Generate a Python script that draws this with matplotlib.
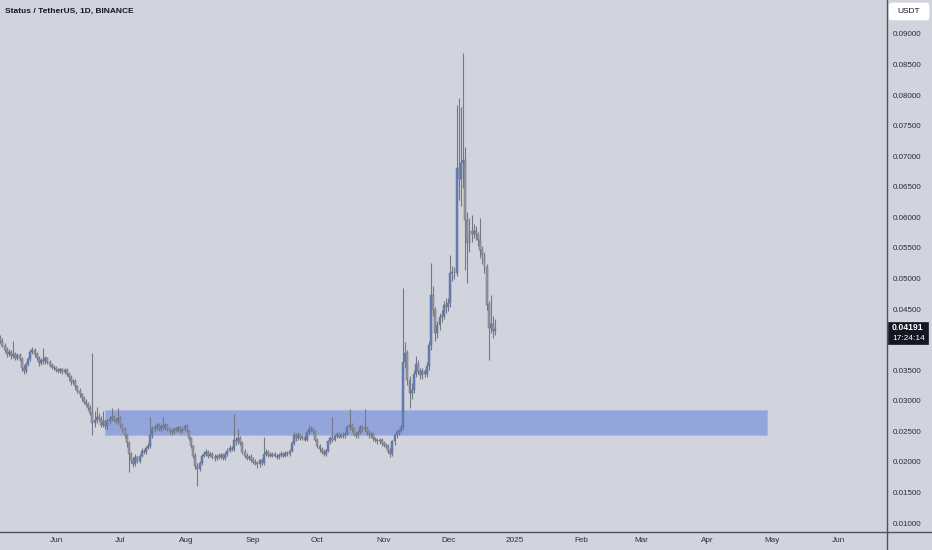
import matplotlib
matplotlib.use("Agg")
import matplotlib.pyplot as plt
import matplotlib.dates as mdates
from matplotlib.patches import Rectangle, FancyBboxPatch
import pandas as pd
import numpy as np

# ---------------- data ----------------
start_date = "2024-05-06"
first_open = 0.0405
closes = [
    0.0400, 0.0392, 0.0385, 0.0378, 0.0382, 0.0375, 0.0378, 0.0372, 0.0377, 0.0370,
    0.0355, 0.0350, 0.0362, 0.0370, 0.0382, 0.0385, 0.0378, 0.0372, 0.0363, 0.0368,
    0.0366, 0.0372, 0.0365, 0.0360, 0.0357, 0.0355, 0.0352, 0.0350, 0.0353, 0.0349,
    0.0352, 0.0345, 0.0340, 0.0332, 0.0334, 0.0325, 0.0318, 0.0312, 0.0306, 0.0300,
    0.0296, 0.0290, 0.0282, 0.0265, 0.0270, 0.0275, 0.0272, 0.0262, 0.0268, 0.0260,
    0.0268, 0.0272, 0.0275, 0.0270, 0.0268, 0.0273, 0.0262, 0.0255, 0.0245, 0.0232,
    0.0215, 0.0205, 0.0198, 0.0210, 0.0203, 0.0212, 0.0220, 0.0218, 0.0225, 0.0228,
    0.0245, 0.0255, 0.0258, 0.0262, 0.0255, 0.0260, 0.0257, 0.0262, 0.0255, 0.0252,
    0.0250, 0.0255, 0.0253, 0.0258, 0.0252, 0.0255, 0.0260, 0.0252, 0.0240, 0.0228,
    0.0212, 0.0195, 0.0190, 0.0200, 0.0212, 0.0215, 0.0218, 0.0212, 0.0215, 0.0210,
    0.0208, 0.0212, 0.0210, 0.0213, 0.0208, 0.0215, 0.0220, 0.0225, 0.0222, 0.0238,
    0.0235, 0.0240, 0.0232, 0.0218, 0.0212, 0.0208, 0.0210, 0.0205, 0.0202, 0.0200,
    0.0198, 0.0204, 0.0200, 0.0215, 0.0218, 0.0213, 0.0212, 0.0215, 0.0212, 0.0210,
    0.0213, 0.0215, 0.0212, 0.0216, 0.0214, 0.0220, 0.0232, 0.0245, 0.0240, 0.0245,
    0.0240, 0.0242, 0.0238, 0.0250, 0.0256, 0.0254, 0.0250, 0.0238, 0.0228, 0.0222,
    0.0218, 0.0215, 0.0220, 0.0235, 0.0240, 0.0238, 0.0244, 0.0247, 0.0243, 0.0246,
    0.0245, 0.0248, 0.0258, 0.0262, 0.0255, 0.0248, 0.0245, 0.0250, 0.0258, 0.0255,
    0.0257, 0.0250, 0.0245, 0.0247, 0.0240, 0.0238, 0.0235, 0.0237, 0.0232, 0.0230,
    0.0228, 0.0220, 0.0215, 0.0235, 0.0245, 0.0250, 0.0252, 0.0258, 0.0365, 0.0380,
    0.0335, 0.0315, 0.0320, 0.0345, 0.0362, 0.0350, 0.0343, 0.0350, 0.0345, 0.0358,
    0.0393, 0.0475, 0.0450, 0.0412, 0.0425, 0.0438, 0.0440, 0.0458, 0.0455, 0.0462,
    0.0510, 0.0512, 0.0510, 0.0682, 0.0665, 0.0690, 0.0695, 0.0597, 0.0560, 0.0580,
    0.0575, 0.0580, 0.0572, 0.0565, 0.0548, 0.0540, 0.0520, 0.0458, 0.0420, 0.0428,
    0.0415, 0.04191,
]
highs = [
    0.0410, 0.0404, 0.0396, 0.0390, 0.0386, 0.0385, 0.0400, 0.0381, 0.0380, 0.0379,
    0.0373, 0.0360, 0.0365, 0.0374, 0.0386, 0.0390, 0.0388, 0.0381, 0.0375, 0.0371,
    0.0388, 0.0375, 0.0374, 0.0368, 0.0363, 0.0360, 0.0358, 0.0355, 0.0356, 0.0356,
    0.0356, 0.0355, 0.0348, 0.0343, 0.0338, 0.0337, 0.0328, 0.0322, 0.0315, 0.0310,
    0.0304, 0.0299, 0.0294, 0.0379, 0.0285, 0.0292, 0.0282, 0.0276, 0.0285, 0.0271,
    0.0272, 0.0276, 0.0290, 0.0278, 0.0274, 0.0290, 0.0276, 0.0265, 0.0258, 0.0248,
    0.0235, 0.0218, 0.0210, 0.0214, 0.0212, 0.0215, 0.0224, 0.0223, 0.0228, 0.0232,
    0.0275, 0.0260, 0.0262, 0.0266, 0.0265, 0.0263, 0.0275, 0.0265, 0.0264, 0.0258,
    0.0256, 0.0258, 0.0258, 0.0261, 0.0261, 0.0258, 0.0263, 0.0263, 0.0254, 0.0243,
    0.0230, 0.0216, 0.0200, 0.0203, 0.0215, 0.0219, 0.0222, 0.0221, 0.0218, 0.0218,
    0.0214, 0.0215, 0.0216, 0.0216, 0.0216, 0.0218, 0.0224, 0.0229, 0.0228, 0.0280,
    0.0243, 0.0255, 0.0244, 0.0235, 0.0222, 0.0216, 0.0213, 0.0214, 0.0209, 0.0206,
    0.0203, 0.0207, 0.0208, 0.0242, 0.0222, 0.0221, 0.0217, 0.0218, 0.0218, 0.0215,
    0.0216, 0.0219, 0.0218, 0.0220, 0.0219, 0.0223, 0.0236, 0.0250, 0.0249, 0.0250,
    0.0248, 0.0246, 0.0245, 0.0253, 0.0262, 0.0260, 0.0258, 0.0253, 0.0241, 0.0231,
    0.0226, 0.0222, 0.0223, 0.0238, 0.0244, 0.0275, 0.0247, 0.0251, 0.0250, 0.0249,
    0.0250, 0.0251, 0.0262, 0.0288, 0.0265, 0.0258, 0.0251, 0.0254, 0.0262, 0.0262,
    0.0288, 0.0260, 0.0253, 0.0250, 0.0250, 0.0243, 0.0241, 0.0240, 0.0240, 0.0235,
    0.0233, 0.0231, 0.0224, 0.0238, 0.0248, 0.0255, 0.0256, 0.0262, 0.0486, 0.0398,
    0.0385, 0.0342, 0.0330, 0.0352, 0.0375, 0.0368, 0.0356, 0.0356, 0.0354, 0.0365,
    0.0400, 0.0527, 0.0490, 0.0455, 0.0432, 0.0445, 0.0450, 0.0465, 0.0470, 0.0470,
    0.0540, 0.0522, 0.0520, 0.0785, 0.0797, 0.0782, 0.0870, 0.0717, 0.0610, 0.0600,
    0.0605, 0.0590, 0.0588, 0.0578, 0.0600, 0.0555, 0.0545, 0.0525, 0.0465, 0.0475,
    0.0440, 0.0435,
]
lows = [
    0.0396, 0.0389, 0.0381, 0.0374, 0.0375, 0.0370, 0.0372, 0.0368, 0.0369, 0.0366,
    0.0350, 0.0345, 0.0347, 0.0358, 0.0367, 0.0378, 0.0374, 0.0368, 0.0359, 0.0360,
    0.0362, 0.0362, 0.0362, 0.0357, 0.0354, 0.0352, 0.0349, 0.0347, 0.0347, 0.0346,
    0.0346, 0.0342, 0.0336, 0.0328, 0.0329, 0.0321, 0.0314, 0.0308, 0.0302, 0.0296,
    0.0293, 0.0286, 0.0278, 0.0245, 0.0258, 0.0266, 0.0268, 0.0258, 0.0258, 0.0255,
    0.0256, 0.0264, 0.0268, 0.0267, 0.0264, 0.0265, 0.0258, 0.0250, 0.0240, 0.0226,
    0.0185, 0.0200, 0.0194, 0.0195, 0.0200, 0.0200, 0.0209, 0.0214, 0.0215, 0.0222,
    0.0225, 0.0240, 0.0251, 0.0254, 0.0252, 0.0251, 0.0254, 0.0254, 0.0252, 0.0248,
    0.0246, 0.0247, 0.0250, 0.0250, 0.0249, 0.0249, 0.0252, 0.0249, 0.0237, 0.0224,
    0.0208, 0.0190, 0.0162, 0.0186, 0.0197, 0.0209, 0.0212, 0.0208, 0.0209, 0.0206,
    0.0203, 0.0204, 0.0207, 0.0206, 0.0204, 0.0205, 0.0212, 0.0217, 0.0219, 0.0219,
    0.0230, 0.0231, 0.0229, 0.0214, 0.0208, 0.0204, 0.0204, 0.0202, 0.0198, 0.0196,
    0.0192, 0.0194, 0.0197, 0.0197, 0.0211, 0.0210, 0.0209, 0.0209, 0.0209, 0.0207,
    0.0207, 0.0210, 0.0209, 0.0209, 0.0211, 0.0211, 0.0217, 0.0229, 0.0236, 0.0237,
    0.0237, 0.0237, 0.0235, 0.0235, 0.0247, 0.0250, 0.0247, 0.0235, 0.0224, 0.0218,
    0.0214, 0.0211, 0.0211, 0.0217, 0.0231, 0.0234, 0.0235, 0.0240, 0.0240, 0.0240,
    0.0241, 0.0241, 0.0245, 0.0254, 0.0251, 0.0244, 0.0241, 0.0241, 0.0247, 0.0251,
    0.0251, 0.0246, 0.0241, 0.0241, 0.0236, 0.0234, 0.0231, 0.0231, 0.0228, 0.0226,
    0.0224, 0.0216, 0.0210, 0.0212, 0.0230, 0.0241, 0.0246, 0.0249, 0.0254, 0.0355,
    0.0328, 0.0290, 0.0305, 0.0314, 0.0340, 0.0346, 0.0338, 0.0338, 0.0340, 0.0340,
    0.0352, 0.0385, 0.0440, 0.0400, 0.0405, 0.0418, 0.0430, 0.0436, 0.0445, 0.0448,
    0.0455, 0.0498, 0.0500, 0.0505, 0.0630, 0.0620, 0.0650, 0.0516, 0.0494, 0.0545,
    0.0562, 0.0568, 0.0565, 0.0555, 0.0535, 0.0525, 0.0510, 0.0450, 0.0368, 0.0412,
    0.0405, 0.0410,
]
zone_low, zone_high = 0.0245, 0.0286
zone_start, zone_end = "2024-06-24", "2025-04-29"
yticks = [0.01, 0.015, 0.02, 0.025, 0.03, 0.035, 0.045, 0.05, 0.055, 0.06,
          0.065, 0.07, 0.075, 0.08, 0.085, 0.09]
month_ticks = ["2024-06-01", "2024-07-01", "2024-08-01", "2024-09-01", "2024-10-01",
               "2024-11-01", "2024-12-01", "2025-01-01", "2025-02-01", "2025-03-01",
               "2025-04-01", "2025-05-01", "2025-06-01"]
month_labels = ["Jun", "Jul", "Aug", "Sep", "Oct", "Nov", "Dec", "2025", "Feb", "Mar",
                "Apr", "May", "Jun"]
title = "Status / TetherUS, 1D, BINANCE"
last_price_text = "0.04191"
countdown_text = "17:24:14"
currency = "USDT"

# ---------------- figure ----------------
BG = "#d1d4dc"
W, H = 932, 550
fig = plt.figure(figsize=(W / 100, H / 100), dpi=100, facecolor=BG)
ax_left, ax_right, ax_top, ax_bot = 0, 887, 0, 532
ax = fig.add_axes([ax_left / W, 1 - ax_bot / H, (ax_right - ax_left) / W, (ax_bot - ax_top) / H])
ax.set_facecolor(BG)

dates = pd.date_range(start_date, periods=len(closes), freq="D")
xd = mdates.date2num(dates)
opens = [first_open] + closes[:-1]

# y scale: 0.09 at 35px, 0.01 at 524px
ppu = (524 - 35) / 0.08
ymax = 0.09 + 35 / ppu
ymin = 0.09 - (ax_bot - 35) / ppu
ax.set_ylim(ymin, ymax)

day_px = (838 - 56) / 365.0
x_jun = mdates.date2num(pd.Timestamp("2024-06-01"))
xmin = x_jun - 56 / day_px
xmax = x_jun + (887 - 56) / day_px
ax.set_xlim(xmin, xmax)

# zone
zs = mdates.date2num(pd.Timestamp(zone_start))
ze = mdates.date2num(pd.Timestamp(zone_end))
ax.add_patch(Rectangle((zs, zone_low), ze - zs, zone_high - zone_low,
                       facecolor="#93a5db", edgecolor="#aab6e0", lw=0.8, zorder=1))

UP = "#5a7fcc"
DN = "#94979f"
WICK = "#767983"
bw = 0.9
for x, o, h, l, c in zip(xd, opens, highs, lows, closes):
    hi = max(h, o, c)
    lo = min(l, o, c)
    ax.vlines(x, lo, hi, color=WICK, lw=0.8, zorder=2)
    col = UP if c >= o else DN
    bot = min(o, c)
    ht = max(abs(c - o), 0.00008)
    ax.add_patch(Rectangle((x - bw / 2, bot), bw, ht, facecolor=col,
                           edgecolor="#70737d", lw=0.35, zorder=3))

for s in ax.spines.values():
    s.set_visible(False)
ax.set_xticks([])
ax.set_yticks([])

FONT = "Liberation Sans"
# axis lines
fig.add_artist(plt.Line2D([0, 1], [1 - ax_bot / H] * 2, transform=fig.transFigure,
                          color="#50535e", lw=1.0))
fig.add_artist(plt.Line2D([ax_right / W] * 2, [0, 1], transform=fig.transFigure,
                          color="#50535e", lw=1.0))

# y tick labels
for v in yticks:
    ypx = ax_top + (ymax - v) * ppu
    fig.text(893 / W, 1 - ypx / H, f"{v:.5f}", fontsize=5.8, color="#2a2e39",
             family=FONT, va="center", ha="left")

# x tick labels
for d, lab in zip(month_ticks, month_labels):
    xv = mdates.date2num(pd.Timestamp(d))
    xpx = (xv - xmin) * day_px
    fig.text(xpx / W, 1 - 541 / H, lab, fontsize=5.9, color="#2a2e39",
             family=FONT, va="center", ha="center")

# title
fig.text(5 / W, 1 - 11.5 / H, title, fontsize=6.0, color="#131722", family=FONT,
         fontweight="bold", va="center", ha="left")

# currency box
fig.add_artist(FancyBboxPatch((889 / W, 1 - 20 / H), 40 / W, 17 / H,
                              boxstyle="round,pad=0,rounding_size=0.004",
                              transform=fig.transFigure, facecolor="white",
                              edgecolor="white", lw=0.5))
fig.text(909 / W, 1 - 11.5 / H, currency, fontsize=6.0, color="#131722", family=FONT,
         va="center", ha="center")

# last price label
fig.add_artist(Rectangle((888 / W, 1 - 344 / H), 40 / W, 22 / H,
                         transform=fig.transFigure, facecolor="#131722",
                         edgecolor="#131722", lw=0.5))
fig.text(892 / W, 1 - 328 / H, last_price_text, fontsize=6.2, color="white",
         family=FONT, fontweight="bold", va="center", ha="left")
fig.text(892 / W, 1 - 339 / H, countdown_text, fontsize=6.0, color="white",
         family=FONT, va="center", ha="left")

fig.savefig("out.png", dpi=100, facecolor=BG)
